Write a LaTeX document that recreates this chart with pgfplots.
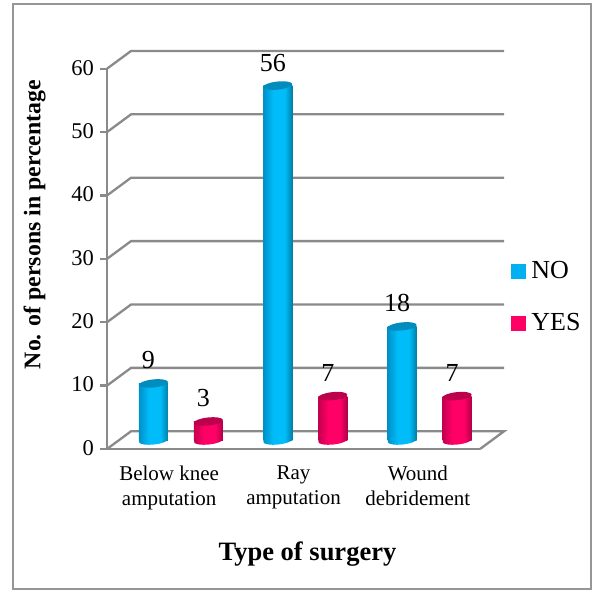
\documentclass[border=0pt]{standalone}
\usepackage{fontspec}
\setmainfont{Liberation Serif}
\usepackage{pgfplots}
\pgfplotsset{compat=1.18}
\definecolor{gridc}{HTML}{8A8A8A}
\definecolor{framec}{HTML}{969696}
\definecolor{leg1}{HTML}{00B0F0}
\definecolor{leg2}{HTML}{FF0066}
\definecolor{bl}{HTML}{0090C8}\definecolor{bm}{HTML}{00BCF8}\definecolor{br}{HTML}{007FA8}
\definecolor{rl}{HTML}{C4004F}\definecolor{rm}{HTML}{FF0066}\definecolor{rr}{HTML}{AE0046}
\definecolor{bt}{HTML}{008CBC}\definecolor{rt}{HTML}{BC004C}
\pgfdeclarehorizontalshading{cylblue}{100bp}{color(0bp)=(bl);color(25bp)=(bl);color(42bp)=(bm);color(62bp)=(bm);color(75bp)=(br);color(100bp)=(br)}
\pgfdeclarehorizontalshading{cylred}{100bp}{color(0bp)=(rl);color(25bp)=(rl);color(42bp)=(rm);color(62bp)=(rm);color(75bp)=(rr);color(100bp)=(rr)}
\pgfdeclareplotmark{topblue}{\pgfsetfillcolor{bt}\pgfpathellipse{\pgfpointorigin}{\pgfpoint{14.5pt}{1.5pt}}{\pgfpoint{-0.5pt}{4pt}}\pgfusepath{fill}}
\pgfdeclareplotmark{topred}{\pgfsetfillcolor{rt}\pgfpathellipse{\pgfpointorigin}{\pgfpoint{14.5pt}{1.5pt}}{\pgfpoint{-0.5pt}{4pt}}\pgfusepath{fill}}
\pgfdeclareplotmark{baseblue}{\pgfpathellipse{\pgfpointorigin}{\pgfpoint{14.5pt}{1.5pt}}{\pgfpoint{-0.5pt}{4pt}}\pgfshadepath{cylblue}{0}\pgfusepath{discard}}
\pgfdeclareplotmark{basered}{\pgfpathellipse{\pgfpointorigin}{\pgfpoint{14.5pt}{1.5pt}}{\pgfpoint{-0.5pt}{4pt}}\pgfshadepath{cylred}{0}\pgfusepath{discard}}
\pgfplotsset{
 back/.style={forget plot,draw=gridc,line width=2.3pt,line join=miter},
 barno/.style={forget plot,xshift=-15.7pt,yshift=8.5pt},
 baryes/.style={forget plot,xshift=39.3pt,yshift=8.5pt},
 cylno/.style={barno,ybar,bar width=29pt,draw=none,shade,shading=cylblue},
 cylyes/.style={baryes,ybar,bar width=29pt,draw=none,shade,shading=cylred},
}
\begin{document}
\begin{tikzpicture}[x=1pt,y=1pt]
\path (0,0) rectangle (592,590);
\draw[framec,line width=2pt] (12.5,1.5) rectangle (590.5,585.5);
\begin{axis}[
 at={(107pt,141pt)},anchor=south west,
 scale only axis,width=373pt,height=380.3pt,
 xmin=-0.5,xmax=2.5,ymin=0,ymax=60,
 clip=false,
 axis x line=bottom,axis y line=left,
 axis line style={draw=gridc,line width=2.3pt,-},
 ytick={0,10,20,30,40,50,60},
 xtick={0,1,2},
 xticklabels={Below knee\\amputation,Ray\\amputation,Wound\\debridement},
 x tick label style={align=center,font=\fontsize{21}{25}\selectfont,yshift=-7pt},
 y tick label style={font=\fontsize{22.5}{24}\selectfont,xshift=-3pt,yshift=1pt},
 /pgf/number format/assume math mode=true,
 major tick length=6.5pt,
 xtick style={draw=none},
 ytick style={draw=gridc,line width=2.3pt},
 tick align=outside,
 xlabel={\textbf{Type of surgery}},
 xlabel style={font=\fontsize{26.5}{28}\selectfont,at={(axis description cs:0.5375,-0.277)},anchor=center},
 ylabel={\textbf{No. of persons in percentage}},
 ylabel style={font=\fontsize{23.8}{26}\selectfont,at={(axis description cs:-0.194,0.59)},anchor=center},
 legend style={draw=none,fill=none,at={(axis cs:2.744,29.9)},anchor=north west,font=\fontsize{26}{28}\selectfont,row sep=29pt,inner sep=0pt},
 legend cell align=left,
 nodes near coords style={font=\fontsize{26}{28}\selectfont,anchor=center,xshift=-5pt,yshift=23pt,text=black},
]
\addplot[back] coordinates {(-0.5,60) (-0.3065,62.8) (2.6935,62.8)};
\addplot[back] coordinates {(-0.5,50) (-0.3065,52.8) (2.6935,52.8)};
\addplot[back] coordinates {(-0.5,40) (-0.3065,42.8) (2.6935,42.8)};
\addplot[back] coordinates {(-0.5,30) (-0.3065,32.8) (2.6935,32.8)};
\addplot[back] coordinates {(-0.5,20) (-0.3065,22.8) (2.6935,22.8)};
\addplot[back] coordinates {(-0.5,10) (-0.3065,12.8) (2.6935,12.8)};
\addplot[back] coordinates {(-0.5,0) (-0.3065,2.8) (2.6935,2.8) (2.5,0)};
% NO
\addplot[cylno] coordinates {(0,9)};
\addplot[cylno] coordinates {(1,56)};
\addplot[cylno] coordinates {(2,18)};
\addplot[barno,only marks,mark=baseblue] coordinates {(0,0) (1,0) (2,0)};
\addplot[barno,only marks,mark=topblue,nodes near coords] coordinates {(0,9) (1,56) (2,18)};
% YES
\addplot[cylyes] coordinates {(0,3)};
\addplot[cylyes] coordinates {(1,7)};
\addplot[cylyes] coordinates {(2,7)};
\addplot[baryes,only marks,mark=basered] coordinates {(0,0) (1,0) (2,0)};
\addplot[baryes,only marks,mark=topred,nodes near coords] coordinates {(0,3) (1,7) (2,7)};
\addlegendimage{legend image code/.code={\fill[leg1] (0pt,-7pt) rectangle (14pt,7pt);\path (18.5pt,0pt);}}
\addlegendentry{NO}
\addlegendimage{legend image code/.code={\fill[leg2] (0pt,-7pt) rectangle (14pt,7pt);\path (18.5pt,0pt);}}
\addlegendentry{YES}
\end{axis}
\end{tikzpicture}
\end{document}
